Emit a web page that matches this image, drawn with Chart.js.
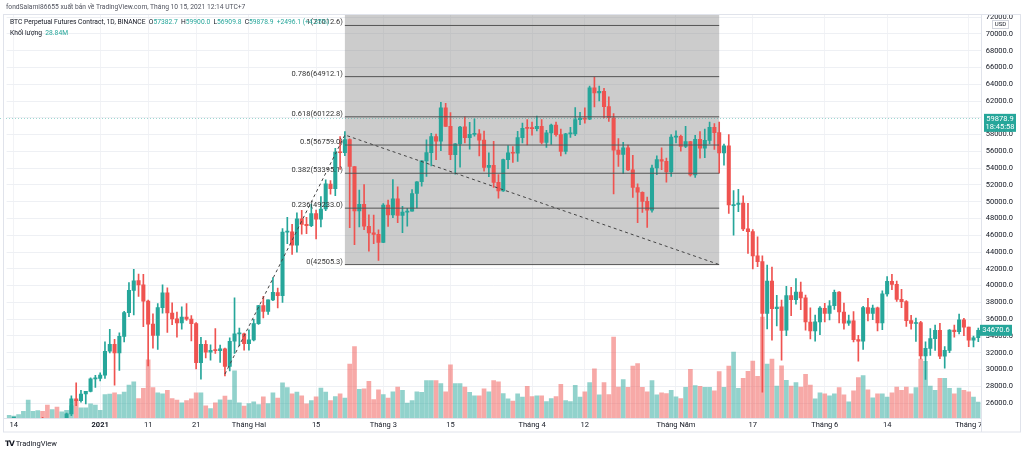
<!DOCTYPE html>
<html lang="vi"><head><meta charset="utf-8"><title>BTC Perpetual Futures Contract, 1D</title>
<script src="https://cdn.jsdelivr.net/npm/chart.js@4.4.1/dist/chart.umd.min.js"></script>
<style>
html,body{margin:0;padding:0;background:#fff;}
#wrap{position:relative;width:1024px;height:453px;overflow:hidden;font-family:Roboto,"Noto Sans",sans-serif;}
#c{position:absolute;left:0;top:0;}
.t{position:absolute;white-space:nowrap;font-size:6.7px;line-height:9px;color:#131722;}
.v{color:#26a69a;}
</style></head><body>
<div id="wrap">
<canvas id="c" width="1024" height="453"></canvas>
<div class="t" style="left:6px;top:3px;color:#50535e">fondSalami86655 xuất bản về TradingView.com, Tháng 10 15, 2021 12:14 UTC+7</div>
<div class="t" style="left:10px;top:18px">BTC Perpetual Futures Contract, 1D, BINANCE&nbsp; O<span class="v">57382.7</span>&nbsp; H<span class="v">59900.0</span>&nbsp; L<span class="v">56909.8</span>&nbsp; C<span class="v">59878.9</span>&nbsp; <span class="v">+2496.1 (+4.35%)</span></div>
<div class="t" style="left:10px;top:29px">Khối lượng&nbsp; <span class="v">28.84M</span></div>
<div class="t" style="left:5px;top:439px;font-size:7.5px"><b style="font-family:'DejaVu Sans';letter-spacing:-1px">TV</b> TradingView</div>
</div>
<script>
// ---------- data ----------
const dates = [
'2020-12-13','2020-12-14','2020-12-15','2020-12-16','2020-12-17','2020-12-18','2020-12-19','2020-12-20','2020-12-21','2020-12-22','2020-12-23','2020-12-24','2020-12-25','2020-12-26','2020-12-27','2020-12-28','2020-12-29','2020-12-30','2020-12-31',
'2021-01-01','2021-01-02','2021-01-03','2021-01-04','2021-01-05','2021-01-06','2021-01-07','2021-01-08','2021-01-09','2021-01-10','2021-01-11','2021-01-12','2021-01-13','2021-01-14','2021-01-15','2021-01-16','2021-01-17','2021-01-18','2021-01-19','2021-01-20','2021-01-21','2021-01-22','2021-01-23','2021-01-24','2021-01-25','2021-01-26','2021-01-27','2021-01-28','2021-01-29','2021-01-30','2021-01-31',
'2021-02-01','2021-02-02','2021-02-03','2021-02-04','2021-02-05','2021-02-06','2021-02-07','2021-02-08','2021-02-09','2021-02-10','2021-02-11','2021-02-12','2021-02-13','2021-02-14','2021-02-15','2021-02-16','2021-02-17','2021-02-18','2021-02-19','2021-02-20','2021-02-21','2021-02-22','2021-02-23','2021-02-24','2021-02-25','2021-02-26','2021-02-27','2021-02-28',
'2021-03-01','2021-03-02','2021-03-03','2021-03-04','2021-03-05','2021-03-06','2021-03-07','2021-03-08','2021-03-09','2021-03-10','2021-03-11','2021-03-12','2021-03-13','2021-03-14','2021-03-15','2021-03-16','2021-03-17','2021-03-18','2021-03-19','2021-03-20','2021-03-21','2021-03-22','2021-03-23','2021-03-24','2021-03-25','2021-03-26','2021-03-27','2021-03-28','2021-03-29','2021-03-30','2021-03-31',
'2021-04-01','2021-04-02','2021-04-03','2021-04-04','2021-04-05','2021-04-06','2021-04-07','2021-04-08','2021-04-09','2021-04-10','2021-04-11','2021-04-12','2021-04-13','2021-04-14','2021-04-15','2021-04-16','2021-04-17','2021-04-18','2021-04-19','2021-04-20','2021-04-21','2021-04-22','2021-04-23','2021-04-24','2021-04-25','2021-04-26','2021-04-27','2021-04-28','2021-04-29','2021-04-30',
'2021-05-01','2021-05-02','2021-05-03','2021-05-04','2021-05-05','2021-05-06','2021-05-07','2021-05-08','2021-05-09','2021-05-10','2021-05-11','2021-05-12','2021-05-13','2021-05-14','2021-05-15','2021-05-16','2021-05-17','2021-05-18','2021-05-19','2021-05-20','2021-05-21','2021-05-22','2021-05-23','2021-05-24','2021-05-25','2021-05-26','2021-05-27','2021-05-28','2021-05-29','2021-05-30','2021-05-31',
'2021-06-01','2021-06-02','2021-06-03','2021-06-04','2021-06-05','2021-06-06','2021-06-07','2021-06-08','2021-06-09','2021-06-10','2021-06-11','2021-06-12','2021-06-13','2021-06-14','2021-06-15','2021-06-16','2021-06-17','2021-06-18','2021-06-19','2021-06-20','2021-06-21','2021-06-22','2021-06-23','2021-06-24','2021-06-25','2021-06-26','2021-06-27','2021-06-28','2021-06-29','2021-06-30',
'2021-07-01','2021-07-02','2021-07-03'];

const open = [
18808,19174,19273,19426,21335,22797,23107,23821,23455,22719,23810,23232,23729,24712,26493,26281,27079,27385,28875,
28923,29331,32176,33000,31989,33950,36769,39432,40586,40088,38150,35410,34049,37371,39145,36737,36025,35548,36250,36000,35468,30821,33005,32068,32289,32255,32465,30366,33369,34252,34262,
33092,33517,35472,37620,36936,38289,39181,38795,46374,46420,44807,47968,47298,47156,48580,47911,49133,52117,51552,55906,55841,57412,54183,48891,49676,47073,46277,46103,
45134,49595,48436,50349,48374,48747,48883,50977,52376,54875,55851,57773,57221,61188,58976,55605,56900,58913,57642,58030,58100,57351,54083,54342,52304,51293,55025,55818,55782,57635,58746,
58740,58720,58979,57075,58203,59130,57991,56000,58092,58092,59778,59964,59834,63576,62959,63159,61334,60007,56150,55633,56425,53787,51690,51110,50047,49004,54021,55033,54825,53556,
57697,57798,56578,57169,53200,57436,56393,57315,58866,58241,55816,56670,49537,49671,49844,46762,46426,43538,42849,36671,40526,37263,37458,34681,38811,38324,39241,38530,35658,34605,35659,
37293,36694,37599,39242,36856,35521,35796,33556,33380,37389,36697,37340,35546,39020,40516,40143,38349,38098,35820,35483,35600,31614,32509,33675,34663,31576,32283,34702,34494,35911,
35045,33502,33786];

const high = [
19411,19349,19570,21560,23800,23285,24171,24295,24102,23837,24145,23794,24789,26867,28422,27500,27410,28996,29300,
29600,33300,34778,33600,34360,36939,40365,41950,41380,41350,38264,36628,37850,40100,39747,37950,36852,37469,37850,36415,35600,33826,33456,32944,34875,32921,32557,33783,38531,34933,34342,
34717,35984,37662,38708,38310,40955,39700,46794,48142,47310,48678,48985,48150,49707,49010,50620,52618,52530,56368,57767,58352,57508,54183,51374,52041,48424,48394,46638,
49790,50200,52640,51773,49448,49200,51450,52402,54900,57387,58150,58058,61844,61724,60633,56938,58982,60129,59450,59880,58589,58430,55830,57200,53229,55073,56700,56559,58405,59368,59800,
59490,60200,59791,58500,59251,59500,58650,58153,58869,61218,60658,61199,63777,64854,63800,63520,62506,60499,57526,57076,56757,55521,52131,51166,50554,54357,55460,56428,55200,58000,
58458,57930,58981,57200,57911,58360,58650,59500,59300,59500,56862,58000,51330,51483,50700,49800,46690,45799,43546,42451,42200,38829,38270,39920,39791,40841,40412,38877,37338,36488,37499,
37896,38225,39476,39289,37917,36480,36900,34068,37534,38491,37680,37436,39380,41064,41330,40527,39560,38200,36457,36137,35750,33298,34881,35298,35500,32730,34749,35297,36600,36100,
35057,33977,34945];

const low = [
18711,19000,19050,19278,21230,22350,22750,23060,21815,22353,22802,22703,23433,24500,25700,26101,25880,27320,27850,
28624,28946,31962,28130,29900,33288,36300,36500,38720,35111,30420,32531,32380,36701,34408,35357,33850,34800,35844,33400,30071,28850,31390,31106,31900,30837,29241,29842,31915,32825,32300,
32296,33418,35362,36161,36570,38215,37351,37988,45000,43727,43995,46125,46202,47014,45570,47003,48947,50901,50710,53863,55477,46902,44892,47003,46674,44106,45000,43000,
45115,47047,48100,47500,46300,47070,48883,49274,51845,53005,54269,55013,56078,58966,55000,53271,54123,57024,56271,57820,55450,53650,53000,51700,50427,51214,53950,54691,54800,57000,56769,
57935,58428,56880,56478,56817,57800,55473,55700,57654,57873,59177,59369,59777,61301,62020,60000,59580,50931,54221,53329,53695,50500,47500,48734,46930,48753,53222,53813,52330,53013,
57000,56035,56435,53046,52900,55200,55241,56900,56235,53400,54370,48600,46000,48800,46555,43825,42001,42250,27300,34850,33488,35200,31111,34031,36419,37800,37134,34684,33632,33379,34153,
35666,35920,37170,35555,34800,35258,33300,31000,32396,35782,35936,34600,34758,38730,39506,38116,37365,35129,34803,33336,31251,28805,31683,32286,31275,30151,32000,33862,34225,34017,
32711,32699,33316];

const close = [
19174,19273,19426,21335,22797,23107,23821,23455,22719,23810,23232,23729,24712,26493,26281,27079,27385,28875,28923,
29331,32178,33000,31988,33949,36769,39432,40582,40088,38150,35404,34051,37372,39144,36742,36018,35547,36248,35995,35468,30826,33005,32067,32289,32254,32467,30366,33364,34252,34262,33092,
33526,35466,37618,36936,38290,39186,38795,46374,46420,44807,47969,47287,47153,48577,47911,49133,52119,51552,55906,55841,57412,54204,48891,49676,47073,46277,46106,45135,
49587,48440,50349,48374,48751,48882,50971,52375,54884,55851,57773,57221,61188,58968,55605,56900,58912,57648,58030,58102,57351,54083,54340,52303,51293,55025,55817,55777,57635,58746,58740,
58720,58980,57075,58202,59130,57991,56000,58087,58092,59778,59964,59834,63576,62959,63160,61334,60006,56150,55633,56425,53787,51690,51125,50047,49004,54021,55033,54824,53555,57694,
57800,56578,57169,53200,57436,56393,57314,58862,58240,55816,56670,49631,49670,49841,46762,46431,43538,42849,36690,40526,37252,37449,34655,38796,38324,39241,38529,35663,34605,35678,37332,
36684,37575,39188,36856,35521,35796,33552,33380,37389,36693,37313,35546,39020,40516,40144,38349,38092,35820,35483,35600,31608,32509,33678,34663,31584,32283,34700,34494,35911,35045,
33504,33786,34669];

// volume (thousand contracts)
const volume = [
27,20,33,67,177,67,73,67,127,83,107,60,77,120,173,100,100,140,127,
77,233,237,250,233,257,327,357,193,293,577,300,250,240,273,193,177,150,173,190,250,250,120,93,150,180,217,177,467,150,117,
143,160,133,210,143,250,197,347,300,240,257,220,140,173,210,297,257,173,213,240,197,533,707,283,290,363,183,280,
233,197,260,307,273,147,173,260,253,370,370,370,340,260,527,340,340,307,253,220,220,290,260,370,357,243,190,167,240,207,313,
213,220,220,163,193,213,333,173,163,323,207,260,350,487,230,350,233,800,307,380,303,513,540,303,260,370,230,250,243,273,
210,193,303,483,320,313,303,303,270,460,303,513,653,293,393,463,563,413,1000,533,583,317,517,373,317,350,307,433,327,190,250,
240,220,240,300,230,160,270,400,420,280,200,240,240,207,250,307,273,307,240,300,583,560,317,273,393,393,293,240,297,273,
260,207,157];

const timeTickDates = ['2020-12-14','2021-01-01','2021-01-11','2021-01-21','2021-02-01','2021-02-15','2021-03-01','2021-03-15','2021-04-01','2021-04-12','2021-05-01','2021-05-17','2021-06-01','2021-06-14','2021-07-01'];
const timeTickText  = ['14','2021','11','21','Tháng Hai','15','Tháng 3','15','Tháng 4','12','Tháng Năm','17','Tháng 6','14','Tháng 7'];

const priceTicks = [26000,28000,30000,32000,34000,36000,38000,40000,42000,44000,46000,48000,50000,52000,54000,56000,58000,60000,62000,64000,66000,68000,70000,72000];

const fibRatios = [1, 0.786, 0.618, 0.5, 0.382, 0.236, 0];
const fibPrices = [71012.6, 64912.1, 60122.8, 56759.0, 53395.1, 49233.0, 42505.3];
const fibFrom = '2021-02-21';
const fibTo = '2021-05-10';

const trendDates = ['2021-01-27','2021-02-21','2021-05-10'];
const trendPrices = [29450, 57957.3, 42505.3];

const lastPrice = 59878.9;
const lastPriceTime = '18:45:58';
const markPrice = 34670.6;

const priceMin = 24216, priceMax = 72259;

// ---------- build ----------
const UP = '#26a69a', DN = '#ef5350';
const isUp = close.map((c, i) => c >= open[i]);
const candleColor = isUp.map(u => u ? UP : DN);
const volColor = isUp.map(u => u ? 'rgba(38,166,154,0.5)' : 'rgba(239,83,80,0.5)');
const wickData = dates.map((d, i) => [low[i], high[i]]);
const bodyData = dates.map((d, i) => [open[i], close[i]]);
const tickMap = {};
timeTickDates.forEach((d, k) => { tickMap[dates.indexOf(d)] = timeTickText[k]; });
const trendData = dates.map(d => { const k = trendDates.indexOf(d); return k >= 0 ? trendPrices[k] : null; });
const fibSets = fibPrices.map(p => ({
  type: 'line', yAxisID: 'y', order: 1,
  data: dates.map(d => (d === fibFrom || d === fibTo) ? p : null),
  spanGaps: true, borderColor: '#555', borderWidth: 1, pointRadius: 0
}));

Chart.defaults.font.family = 'Roboto, "Noto Sans", sans-serif';
Chart.defaults.font.size = 7.5;
Chart.defaults.color = '#131722';

const FONT = '7.5px Roboto, "Noto Sans", sans-serif';

const overlay = {
  id: 'overlay',
  beforeDatasetsDraw(chart) {
    const {ctx, chartArea: a, scales: {x, y}} = chart;
    const xa = x.getPixelForValue(dates.indexOf(fibFrom));
    const xb = x.getPixelForValue(dates.indexOf(fibTo));
    const yb = y.getPixelForValue(fibPrices[fibPrices.length - 1]);
    ctx.save();
    ctx.fillStyle = 'rgba(128,128,128,0.4)';
    ctx.fillRect(xa, a.top, xb - xa, yb - a.top);
    ctx.restore();
  },
  afterDatasetsDraw(chart) {
    const {ctx, chartArea: a, scales: {x, y}} = chart;
    const xa = x.getPixelForValue(dates.indexOf(fibFrom));
    ctx.save();
    ctx.font = FONT;
    ctx.fillStyle = '#333';
    ctx.textAlign = 'right';
    ctx.textBaseline = 'alphabetic';
    fibRatios.forEach((r, i) => {
      const yy = y.getPixelForValue(fibPrices[i]);
      ctx.fillText(r + '(' + fibPrices[i].toFixed(1) + ')', xa - 2, yy - 1);
    });
    const yp = Math.round(y.getPixelForValue(lastPrice)) - 0.5;
    ctx.strokeStyle = 'rgba(38,166,154,0.45)';
    ctx.lineWidth = 1;
    ctx.setLineDash([1, 2]);
    ctx.beginPath(); ctx.moveTo(0, yp); ctx.lineTo(a.right, yp); ctx.stroke();
    ctx.restore();
  },
  afterDraw(chart) {
    const {ctx, chartArea: a, scales: {y}} = chart;
    ctx.save();
    ctx.strokeStyle = '#e0e3eb';
    ctx.lineWidth = 1;
    ctx.strokeRect(3.5, 14.5, 1017, a.bottom + 14 - 14.5);
    ctx.beginPath();
    ctx.moveTo(Math.round(a.right) + 0.5, 14.5); ctx.lineTo(Math.round(a.right) + 0.5, a.bottom + 14);
    ctx.moveTo(3.5, a.bottom + 0.5); ctx.lineTo(Math.round(a.right), a.bottom + 0.5);
    ctx.stroke();
    // USD tag
    ctx.fillStyle = '#fff';
    ctx.strokeStyle = '#d1d4dc';
    ctx.fillRect(992.5, 20.5, 16, 8); ctx.strokeRect(992.5, 20.5, 16, 8);
    ctx.fillStyle = '#131722';
    ctx.font = '6px Roboto, "Noto Sans", sans-serif';
    ctx.textAlign = 'center'; ctx.textBaseline = 'middle';
    ctx.fillText('USD', 1000.5, 24.8);
    // last price tag
    const yp = y.getPixelForValue(lastPrice);
    ctx.fillStyle = UP;
    ctx.fillRect(984, yp - 5, 32, 18);
    ctx.fillStyle = '#fff';
    ctx.font = FONT;
    ctx.fillText(lastPrice.toFixed(1), 1000, yp + 0.2);
    ctx.fillText(lastPriceTime, 1000, yp + 8.6);
    // mark price tag
    const ym = y.getPixelForValue(markPrice);
    ctx.fillStyle = UP;
    ctx.fillRect(980, ym - 5.5, 32, 11);
    ctx.fillStyle = '#fff';
    ctx.fillText(markPrice.toFixed(1), 996, ym + 0.3);
    ctx.restore();
  }
};

new Chart(document.getElementById('c'), {
  type: 'bar',
  data: {
    labels: dates,
    datasets: [
      ...fibSets,
      { type: 'line', yAxisID: 'y', order: 0, data: trendData, spanGaps: true,
        borderColor: '#444', borderWidth: 1, borderDash: [3, 3], pointRadius: 0 },
      { type: 'bar', yAxisID: 'y', order: 3, data: bodyData, backgroundColor: candleColor,
        barThickness: 3.4, grouped: false, minBarLength: 1 },
      { type: 'bar', yAxisID: 'y', order: 4, data: wickData, backgroundColor: candleColor,
        barThickness: 1, grouped: false },
      { type: 'bar', yAxisID: 'yv', order: 10, data: volume, backgroundColor: volColor,
        barThickness: 4, grouped: false }
    ]
  },
  options: {
    responsive: false,
    animation: false,
    devicePixelRatio: 1,
    layout: { padding: { left: 6.6, top: 15, right: 0, bottom: 21 } },
    plugins: { legend: { display: false }, tooltip: { enabled: false } },
    scales: {
      x: {
        type: 'category', offset: true,
        grid: { offset: false, drawTicks: false,
          color: c => (tickMap[c.index] !== undefined) ? '#f2f3f6' : 'rgba(0,0,0,0)' },
        border: { display: false },
        ticks: { autoSkip: false, maxRotation: 0, minRotation: 0, padding: 3,
          callback: (v, i) => tickMap[i] !== undefined ? tickMap[i] : '',
          font: c => ({ size: 7.5, weight: tickMap[c.index] === '2021' ? 'bold' : 'normal' }),
          color: '#131722' },
        afterFit: s => { s.height = 14; }
      },
      y: {
        position: 'right', min: priceMin, max: priceMax,
        afterBuildTicks: s => { s.ticks = priceTicks.map(v => ({ value: v })); },
        grid: { color: '#eef0f4', drawTicks: false },
        border: { display: false },
        ticks: { padding: 5, callback: v => Number(v).toFixed(1), color: '#131722' },
        afterFit: s => { s.width = 43.3; }
      },
      yv: { display: false, min: 0, max: 3990 }
    }
  },
  plugins: [overlay]
});
</script>
</body></html>
